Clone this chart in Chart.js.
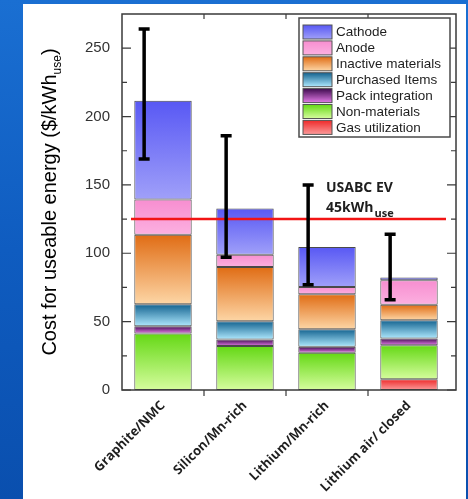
<!DOCTYPE html>
<html>
<head>
<meta charset="utf-8">
<script src="https://cdn.jsdelivr.net/npm/chart.js@4.4.1/dist/chart.umd.min.js"></script>
<style>
  html, body { margin: 0; padding: 0; }
  body {
    width: 468px; height: 499px; overflow: hidden; position: relative;
    background: linear-gradient(180deg, #1a6fd2 0%, #0f5cc0 50%, #0a4fae 100%);
  }
  #panel {
    position: absolute; left: 23px; top: 4px; width: 443px; height: 495px;
    background: #ffffff;
  }
  canvas { display: block; }
</style>
</head>
<body>
<div id="panel"><canvas id="chart" width="443" height="495"></canvas></div>
<script>
(function () {
  'use strict';

  // data ($/kWh_use)
  var categories = ['Graphite/NMC', 'Silicon/Mn-rich', 'Lithium/Mn-rich', 'Lithium air/ closed'];
  var gasUtilization = [0, 0, 0, 7.8];
  var nonMaterials = [41.4, 32.1, 27.2, 25.0];
  var packIntegration = [5.3, 4.9, 4.4, 4.9];
  var purchasedItems = [16.0, 13.3, 12.9, 13.4];
  var inactiveMaterials = [50.9, 39.7, 25.5, 11.2];
  var anode = [25.7, 9.0, 5.4, 18.0];
  var cathode = [72.3, 33.8, 29.2, 1.9];
  var errorLow = [169, 97, 77, 66];
  var errorHigh = [264, 186, 150, 114];
  var targetCost = 125;
  var yTicks = [0, 50, 100, 150, 200, 250];

  // stack order: bottom first
  var series = [
    { label: 'Gas utilization', data: gasUtilization, top: '#ee2a2a', bottom: '#fb9a9a' },
    { label: 'Non-materials', data: nonMaterials, top: '#64d814', bottom: '#d6fd9e' },
    { label: 'Pack integration', data: packIntegration, top: '#3e0a4e', bottom: '#e27ae6' },
    { label: 'Purchased Items', data: purchasedItems, top: '#13628f', bottom: '#aee8fd' },
    { label: 'Inactive materials', data: inactiveMaterials, top: '#e06c14', bottom: '#fdd6a6' },
    { label: 'Anode', data: anode, top: '#f78ed0', bottom: '#fcb0e0' },
    { label: 'Cathode', data: cathode, top: '#5858f4', bottom: '#a0a0f9' }
  ];

  function segmentFill(ctx, s) {
    var chart = ctx.chart;
    var y = chart.scales && chart.scales.y;
    if (ctx.type !== 'data' || !y || !chart.chartArea) return s.top;
    var base = 0;
    for (var k = 0; k < ctx.datasetIndex; k++) base += series[k].data[ctx.dataIndex];
    var val = base + s.data[ctx.dataIndex];
    var y0 = y.getPixelForValue(val), y1 = y.getPixelForValue(base);
    if (!isFinite(y0) || !isFinite(y1) || y0 === y1) return s.top;
    var g = chart.ctx.createLinearGradient(0, y0, 0, y1);
    g.addColorStop(0, s.top);
    g.addColorStop(1, s.bottom);
    return g;
  }

  var datasets = series.map(function (s) {
    return {
      label: s.label,
      data: s.data,
      backgroundColor: function (ctx) { return segmentFill(ctx, s); },
      borderColor: '#4a4a4a',
      borderWidth: 1,
      borderSkipped: false,
      barPercentage: 0.7,
      categoryPercentage: 1.0
    };
  });

  var overlay = {
    id: 'overlay',
    afterDatasetsDraw: function (chart) {
      var c = chart.ctx, a = chart.chartArea;
      var xs = chart.scales.x, ys = chart.scales.y;
      var catW = (a.right - a.left) / categories.length;
      var frameRight = a.right + 6;
      c.save();

      // target line
      var ty = ys.getPixelForValue(targetCost);
      c.strokeStyle = '#f21414';
      c.lineWidth = 2.5;
      c.beginPath();
      c.moveTo(a.left + 9, ty);
      c.lineTo(a.right - 4, ty);
      c.stroke();

      // error bars
      c.strokeStyle = '#000';
      c.lineWidth = 3.5;
      for (var i = 0; i < categories.length; i++) {
        var ex = xs.getPixelForValue(i) - catW * 0.23;
        var yl = ys.getPixelForValue(errorLow[i]);
        var yh = ys.getPixelForValue(errorHigh[i]);
        c.beginPath();
        c.moveTo(ex, yl); c.lineTo(ex, yh);
        c.moveTo(ex - 5.5, yl); c.lineTo(ex + 5.5, yl);
        c.moveTo(ex - 5.5, yh); c.lineTo(ex + 5.5, yh);
        c.stroke();
      }

      // frame and tick marks
      c.strokeStyle = '#3a3a3a';
      c.lineWidth = 1.5;
      c.strokeRect(a.left, a.top, frameRight - a.left, a.bottom - a.top);
      c.lineWidth = 1.2;
      c.beginPath();
      for (var v = 0; v <= ys.max; v += 25) {
        var py = ys.getPixelForValue(v);
        if (py < a.top + 2) continue;
        var len = (v % 50 === 0) ? 9 : 5;
        c.moveTo(a.left, py); c.lineTo(a.left + len, py);
        c.moveTo(frameRight, py); c.lineTo(frameRight - len, py);
      }
      for (var j = 0; j < categories.length - 1; j++) {
        var px = xs.getPixelForValue(j) + catW / 2;
        c.moveTo(px, a.bottom); c.lineTo(px, a.bottom + 6);
        c.moveTo(px, a.top); c.lineTo(px, a.top + 5);
      }
      c.stroke();

      // annotation text
      var tx = xs.getPixelForValue(2) - 1;
      c.fillStyle = '#1e1e1e';
      c.textAlign = 'left';
      c.textBaseline = 'alphabetic';
      c.font = 'bold 14px "Open Sans", sans-serif';
      c.fillText('USABC EV', tx, ys.getPixelForValue(148.8) + 5);
      var line2y = ys.getPixelForValue(133.5) + 5;
      c.fillText('45kWh', tx, line2y);
      var w2 = c.measureText('45kWh').width;
      c.font = 'bold 11px "Open Sans", sans-serif';
      c.fillText('use', tx + w2 + 1, line2y + 5);

      // legend (top → bottom = Cathode → Gas utilization)
      var lw = 151, lh = 119;
      var lx = a.right - lw, ly = a.top + 4;
      c.fillStyle = '#fff';
      c.fillRect(lx, ly, lw, lh);
      c.strokeStyle = '#4a4a4a';
      c.lineWidth = 1.5;
      c.strokeRect(lx, ly, lw, lh);
      c.font = '13.5px "Liberation Sans", Arial, sans-serif';
      c.textBaseline = 'middle';
      var items = chart.data.datasets.slice().reverse();
      items.forEach(function (ds, n) {
        var s = series[series.length - 1 - n];
        var sy = ly + 7 + n * 15.9;
        var g = c.createLinearGradient(0, sy, 0, sy + 14);
        g.addColorStop(0, s.top);
        g.addColorStop(1, s.bottom);
        c.fillStyle = g;
        c.fillRect(lx + 4, sy, 29, 14);
        c.strokeStyle = '#555';
        c.lineWidth = 1;
        c.strokeRect(lx + 4, sy, 29, 14);
        c.fillStyle = '#1e1e1e';
        c.fillText(ds.label, lx + 37, sy + 7.5);
      });

      // y axis title with subscript
      var cy = (a.top + a.bottom) / 2;
      c.translate(27, cy);
      c.rotate(-Math.PI / 2);
      c.fillStyle = '#000';
      c.textBaseline = 'middle';
      var main = 'Cost for useable energy ($/kWh';
      c.font = '20px "Liberation Sans", Arial, sans-serif';
      var wMain = c.measureText(main).width;
      c.font = '12px "Liberation Sans", Arial, sans-serif';
      var wSub = c.measureText('use').width;
      c.font = '20px "Liberation Sans", Arial, sans-serif';
      var wPar = c.measureText(')').width;
      var start = -(wMain + wSub + wPar) / 2;
      c.fillText(main, start, 0);
      c.font = '12px "Liberation Sans", Arial, sans-serif';
      c.fillText('use', start + wMain, 8);
      c.font = '20px "Liberation Sans", Arial, sans-serif';
      c.fillText(')', start + wMain + wSub, 0);
      c.restore();
    }
  };

  new Chart(document.getElementById('chart').getContext('2d'), {
    type: 'bar',
    data: { labels: categories, datasets: datasets },
    options: {
      responsive: false,
      animation: false,
      layout: { padding: { left: 0, top: 10, right: 16, bottom: 0 } },
      plugins: { legend: { display: false }, tooltip: { enabled: false } },
      scales: {
        x: {
          stacked: true,
          grid: { display: false, drawTicks: false },
          border: { display: false },
          ticks: {
            color: '#1e1e1e',
            font: { family: '"Open Sans", sans-serif', size: 13, weight: 'bold' },
            minRotation: 45, maxRotation: 45, padding: 8
          },
          afterFit: function (scale) {
            scale.height = 109;
            scale.paddingLeft = 0; scale.paddingRight = 0;
          }
        },
        y: {
          stacked: true,
          min: 0, max: 275,
          grid: { display: false, drawTicks: false },
          border: { display: false },
          afterBuildTicks: function (scale) {
            scale.ticks = yTicks.map(function (v) { return { value: v }; });
          },
          ticks: {
            color: '#333',
            font: { family: '"Liberation Sans", Arial, sans-serif', size: 15 },
            padding: 12
          },
          afterFit: function (scale) {
            scale.width = 99;
            scale.paddingTop = 0; scale.paddingBottom = 0;
          }
        }
      }
    },
    plugins: [overlay]
  });
})();
</script>
</body>
</html>
